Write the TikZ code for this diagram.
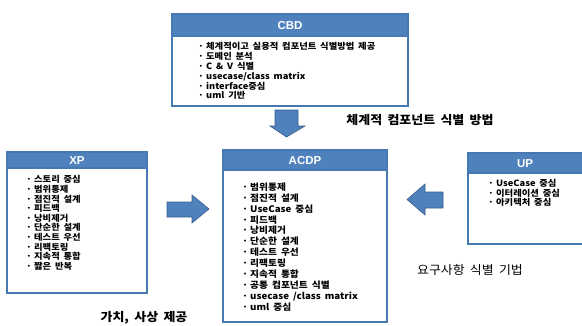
\documentclass[tikz,border=0pt]{standalone}
\usepackage{fontspec}
\setmainfont{Noto Sans CJK KR}[FakeStretch=1.08, WordSpace=1.8]
\newfontfamily\headfont{Liberation Sans}
\definecolor{hdblue}{RGB}{79,129,189}
\definecolor{edgeblue}{RGB}{70,120,180}
\definecolor{arrowedge}{RGB}{56,93,138}
\newcommand\itm{\makebox[8pt][l]{·}}
\begin{document}
\begin{tikzpicture}[x=1pt,y=-1pt,
  panel/.style={draw=edgeblue, line width=1.6pt, fill=white},
  band/.style={draw=edgeblue, line width=1.6pt, fill=hdblue},
  headtext/.style={text=white, font=\headfont\bfseries\fontsize{11.5}{12}\selectfont, inner sep=0pt},
  items/.style={anchor=north west, align=left, inner sep=0pt,
    font=\bfseries\fontsize{8.6}{9.9}\selectfont},
  blockarrow/.style={fill=hdblue, draw=arrowedge, line width=0.6pt},
  caption/.style={inner sep=0pt, font=\fontsize{12}{14}\selectfont}]
\useasboundingbox (0,0) rectangle (582,325);

% CBD panel
\draw[panel] (172,14) rectangle (408,106);
\draw[band] (172,14) rectangle (408,36);
\node[headtext] (cbdh) at (290,25.5) {CBD};
\node[items] (cbdi) at (198,42) {\itm 체계적이고 실용적 컴포넌트 식별방법 제공\\
\itm 도메인 분석\\
\itm C \& V 식별\\
\itm usecase/class matrix\\
\itm interface중심\\
\itm uml 기반};

% XP panel
\draw[panel] (7,152) rectangle (147,293);
\draw[band] (7,152) rectangle (147,168);
\node[headtext] (xph) at (77,160.5) {XP};
\node[items, font=\bfseries\fontsize{8.6}{9.6}\selectfont] (xpi) at (26,175.5) {\itm 스토리 중심\\
\itm 범위통제\\
\itm 점진적 설계\\
\itm 피드백\\
\itm 낭비제거\\
\itm 단순한 설계\\
\itm 테스트 우선\\
\itm 리팩토링\\
\itm 지속적 통합\\
\itm 짧은 반복};

% ACDP panel
\draw[panel] (223,150) rectangle (387,322);
\draw[band] (223,150) rectangle (387,170);
\node[headtext] (acdph) at (305,160.5) {ACDP};
\node[items, font=\bfseries\fontsize{9}{10.9}\selectfont] (acdpi) at (242,182.5) {\itm 범위통제\\
\itm 점진적 설계\\
\itm UseCase 중심\\
\itm 피드백\\
\itm 낭비제거\\
\itm 단순한 설계\\
\itm 테스트 우선\\
\itm 리팩토링\\
\itm 지속적 통합\\
\itm 공통 컴포넌트 식별\\
\itm usecase /class matrix\\
\itm uml 중심};

% UP panel
\draw[panel] (468,153) rectangle (600,244);
\draw[band] (468,153) rectangle (600,173);
\node[headtext] (uph) at (525,163.5) {UP};
\node[items, font=\bfseries\fontsize{8.6}{9.2}\selectfont] (upi) at (488,179.5) {\itm UseCase 중심\\
\itm 이터레이션 중심\\
\itm 아키텍처 중심};

% block arrows
\draw[blockarrow] (275,110) -- (298,110) -- (298,126) -- (305,126) -- (286.5,137)
  -- (270,126) -- (275,126) -- cycle;
\draw[blockarrow] (167,202) -- (192,202) -- (192,195) -- (209,209) -- (192,223)
  -- (192,217) -- (167,217) -- cycle;
\draw[blockarrow] (443,192) -- (425,192) -- (425,184) -- (407,199.5) -- (425,215)
  -- (425,208) -- (443,208) -- cycle;

% captions
\node[caption, font=\bfseries\fontsize{12}{14}\selectfont] (cap1) at (420,120) {체계적 컴포넌트 식별 방법};
\node[caption] (cap2) at (470,270) {요구사항 식별 기법};
\node[caption, font=\bfseries\fontsize{12}{14}\selectfont] (cap3) at (144,318) {가치, 사상 제공};
\end{tikzpicture}
\end{document}
